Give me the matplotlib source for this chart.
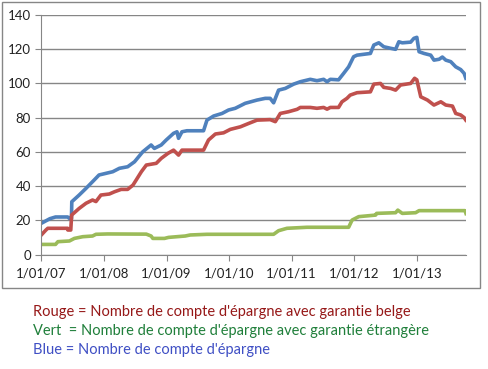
import matplotlib
matplotlib.use("Agg")
import matplotlib.pyplot as plt
import matplotlib.dates as mdates
import numpy as np
from matplotlib.patches import Rectangle

# Blue = total savings accounts
blue_dates = ['2007-01-01', '2007-02-20', '2007-03-25', '2007-06-04', '2007-06-16', '2007-06-26',
              '2007-06-28', '2007-08-10', '2007-09-19', '2007-11-06', '2007-12-04', '2008-02-22',
              '2008-04-01', '2008-05-19', '2008-06-28', '2008-08-15', '2008-10-03', '2008-10-22',
              '2008-12-01', '2008-12-30', '2009-02-11', '2009-03-03', '2009-03-12', '2009-04-01',
              '2009-04-30', '2009-08-05', '2009-08-25', '2009-10-03', '2009-11-21', '2009-12-29',
              '2010-02-06', '2010-04-05', '2010-06-13', '2010-07-31', '2010-08-29', '2010-09-18',
              '2010-10-17', '2010-11-25', '2011-01-13', '2011-02-21', '2011-04-20', '2011-05-29',
              '2011-07-07', '2011-07-27', '2011-08-15', '2011-10-02', '2011-11-01', '2011-11-30',
              '2011-12-29', '2012-01-18', '2012-04-05', '2012-04-25', '2012-05-24', '2012-06-22',
              '2012-08-01', '2012-08-30', '2012-09-18', '2012-10-08', '2012-11-26', '2012-12-15',
              '2013-01-01', '2013-01-14', '2013-02-12', '2013-03-23', '2013-04-11', '2013-05-11',
              '2013-05-30', '2013-06-19', '2013-07-18', '2013-08-16', '2013-09-14', '2013-10-04',
              '2013-10-14']
blue_vals = [18.3, 21, 22, 22, 21, 21,
             30.9, 34.8, 38.7, 43.6, 46.5, 48.4,
             50.4, 51.3, 54.2, 60, 64, 62,
             64, 66.9, 70.8, 71.7, 67.9, 71.7,
             72.3, 72.3, 78.5, 80.9, 82.4, 84.4,
             85.4, 88.3, 90.2, 91.2, 91.2, 88.6,
             96, 97, 99.5, 100.9, 102.3, 101.5,
             102.3, 100.9, 102.3, 102, 105.8, 109.6,
             115.5, 116.4, 117.4, 122.3, 123.6, 121.3,
             120.4, 119.8, 124.2, 123.6, 124, 126.2,
             126.8, 118.4, 117.4, 116.4, 113.5, 114,
             115.3, 113.5, 112.6, 109.6, 108, 105.8,
             102.9]

# Rouge = accounts with Belgian guarantee
red_dates = ['2007-01-01', '2007-01-28', '2007-02-08', '2007-06-04', '2007-06-05', '2007-06-22',
             '2007-06-27', '2007-08-10', '2007-09-19', '2007-10-27', '2007-11-16', '2007-12-15',
             '2008-02-02', '2008-03-03', '2008-04-11', '2008-05-19', '2008-06-19', '2008-07-08',
             '2008-08-07', '2008-09-05', '2008-11-02', '2008-12-01', '2009-01-09', '2009-02-11',
             '2009-03-12', '2009-04-01', '2009-08-05', '2009-09-03', '2009-10-13', '2009-11-30',
             '2010-01-08', '2010-03-08', '2010-04-26', '2010-06-13', '2010-08-29', '2010-09-28',
             '2010-10-27', '2010-12-14', '2011-02-02', '2011-02-21', '2011-04-20', '2011-05-29',
             '2011-07-07', '2011-07-27', '2011-08-15', '2011-10-02', '2011-10-22', '2011-11-20',
             '2011-12-09', '2012-01-18', '2012-04-05', '2012-04-25', '2012-06-03', '2012-06-22',
             '2012-08-01', '2012-08-30', '2012-09-28', '2012-11-26', '2012-12-19', '2013-01-01',
             '2013-01-24', '2013-03-04', '2013-04-11', '2013-05-21', '2013-06-19', '2013-07-28',
             '2013-08-16', '2013-09-14', '2013-10-04', '2013-10-14']
red_vals = [11.5, 14.4, 15.4, 15.4, 14.4, 14.4,
            23.1, 27, 30, 31.9, 31, 34.8,
            35.4, 36.7, 38.1, 38.1, 40.6, 43.6,
            48.4, 52.3, 53.3, 56.2, 59.1, 61,
            58.1, 61, 61, 66.9, 70.4, 71.1,
            73.1, 74.6, 76.6, 78.5, 78.8, 77.6,
            82.4, 83.4, 84.8, 85.9, 85.9, 85.4,
            85.9, 84.9, 85.9, 85.9, 89.2, 91.2,
            93.1, 94.5, 95, 99.5, 99.9, 97.6,
            97, 96, 99, 99.9, 102.9, 102,
            92.1, 90.2, 87.3, 89.2, 87.3, 86.7,
            82.4, 81.5, 80, 78.5]

# Vert = accounts with foreign guarantee
green_dates = ['2007-01-01', '2007-03-25', '2007-04-08', '2007-06-14', '2007-07-13', '2007-08-31',
               '2007-10-27', '2007-11-16', '2008-01-23', '2008-09-05', '2008-10-03', '2008-10-13',
               '2008-12-20', '2009-01-13', '2009-04-20', '2009-05-19', '2009-08-25', '2010-09-18',
               '2010-10-17', '2010-12-05', '2011-04-01', '2011-11-30', '2011-12-20', '2012-01-28',
               '2012-05-05', '2012-05-11', '2012-08-30', '2012-09-12', '2012-10-08', '2012-12-25',
               '2013-01-14', '2013-10-09', '2013-10-15']
green_vals = [6.0, 6.0, 7.6, 8, 9.5, 10.5,
              10.9, 11.9, 12.1, 12, 10.9, 9.5,
              9.5, 10.1, 10.9, 11.5, 11.9, 11.9,
              14, 15.4, 16, 16, 20.2, 22.2,
              23.1, 24.1, 24.5, 26, 24.1, 24.5,
              25.7, 25.7, 24]

year_ticks = ['2007-01-01', '2008-01-01', '2009-01-01', '2010-01-01',
              '2011-01-01', '2012-01-01', '2013-01-01']
year_labels = ['1/01/07', '1/01/08', '1/01/09', '1/01/10', '1/01/11', '1/01/12', '1/01/13']

notes = ["Rouge = Nombre de compte d'épargne avec garantie belge",
         "Vert  = Nombre de compte d'épargne avec garantie étrangère",
         "Blue = Nombre de compte d'épargne"]
note_colors = ['#961818', '#1f7f3a', '#3f4fc4']

plt.rcParams['font.family'] = ['Lato', 'DejaVu Sans']

fig = plt.figure(figsize=(4.89, 3.69), dpi=100)
fig.patches.append(Rectangle((2 / 489, 1 - 288 / 369), 478 / 489, 286 / 369,
                             transform=fig.transFigure, fill=False,
                             edgecolor='#868686', linewidth=1))
ax = fig.add_axes([41.3 / 489, 1 - 254.7 / 369, (466 - 41.3) / 489, (254.7 - 14.7) / 369])

to_d = lambda lst: mdates.datestr2num(lst)
ax.plot(to_d(blue_dates), blue_vals, color='#4f81bd', lw=2.6, solid_joinstyle='round')
ax.plot(to_d(red_dates), red_vals, color='#c0504d', lw=2.6, solid_joinstyle='round')
ax.plot(to_d(green_dates), green_vals, color='#9bbb59', lw=2.6, solid_joinstyle='round')

ax.set_xlim(to_d(['2007-01-01'])[0], to_d(['2013-10-15'])[0])
ax.set_ylim(0, 140)
ax.set_yticks(np.arange(0, 141, 20))
ax.set_xticks(to_d(year_ticks))
ax.set_xticklabels(year_labels)
ax.grid(axis='y', color='#868686', lw=1)
ax.set_axisbelow(True)
for s in ['top', 'right']:
    ax.spines[s].set_visible(False)
for s in ['left', 'bottom']:
    ax.spines[s].set_color('#868686')
ax.tick_params(axis='both', color='#868686', length=4, labelsize=9.5, labelcolor='#222222')
ax.tick_params(axis='x', pad=5)

for i, (txt, c) in enumerate(zip(notes, note_colors)):
    fig.text(33 / 489, 1 - (312 + i * 19) / 369, txt, color=c, fontsize=10.5, va='center')

fig.savefig('out.png', dpi=100)
